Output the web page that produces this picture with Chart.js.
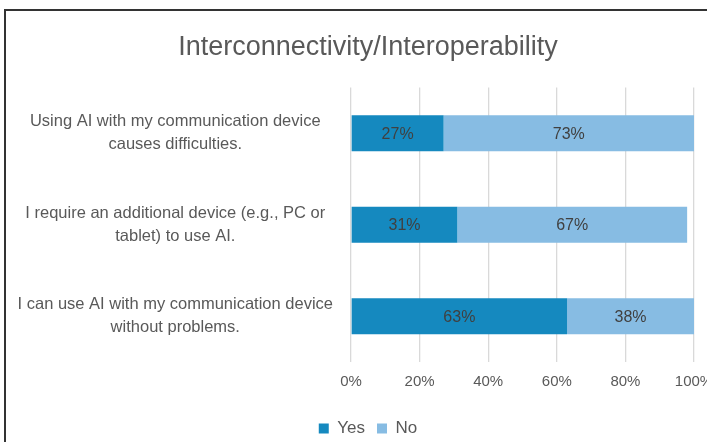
<!DOCTYPE html>
<html>
<head>
<meta charset="utf-8">
<script src="https://cdn.jsdelivr.net/npm/chart.js@4.4.1/dist/chart.umd.min.js"></script>
<style>
  html, body { margin: 0; padding: 0; background: #fff; overflow: hidden; }
  #frame {
    position: absolute; left: 4px; top: 9px;
    width: 730px; height: 470px;
    border-left: 2px solid #333; border-top: 2px solid #333;
  }
  #chart { display: block; }
</style>
</head>
<body>
<div id="frame"><canvas id="chart" width="724" height="444"></canvas></div>
<script>
// survey statements, one bar each
var categories = [
    ['Using AI with my communication device', 'causes difficulties.'],
    ['I require an additional device (e.g., PC or', 'tablet) to use AI.'],
    ['I can use AI with my communication device', 'without problems.']
];
var yesValues = [27, 31, 63];
var noValues = [73, 67, 38];
var xTicks = [0, 20, 40, 60, 80, 100];

var textGray = '#595959';
var labelFont = "'Liberation Sans', Arial, sans-serif";

// prints the percentage in the middle of each bar segment
var barLabels = {
    id: 'barLabels',
    afterDatasetsDraw: function(chart) {
        var ctx = chart.ctx;
        var area = chart.chartArea;
        ctx.save();
        ctx.font = '16px ' + labelFont;
        ctx.fillStyle = '#404040';
        ctx.textAlign = 'center';
        ctx.textBaseline = 'middle';
        chart.data.datasets.forEach(function(ds, i) {
            var meta = chart.getDatasetMeta(i);
            meta.data.forEach(function(bar, j) {
                var p = bar.getProps(['x', 'y', 'base'], true);
                var right = Math.min(p.x, area.right);
                var left = Math.max(p.base, area.left);
                ctx.fillText(ds.data[j] + '%', (left + right) / 2, p.y + 1);
            });
        });
        ctx.restore();
    }
};

new Chart(document.getElementById('chart'), {
    type: 'bar',
    data: {
        labels: categories,
        datasets: [
            { label: 'Yes', data: yesValues, backgroundColor: '#1589bf' },
            { label: 'No', data: noValues, backgroundColor: '#87bce3' }
        ]
    },
    options: {
        indexAxis: 'y',
        responsive: false,
        animation: false,
        barPercentage: 0.393,
        categoryPercentage: 1,
        layout: { padding: { left: 0, right: 0, top: 0, bottom: 8 } },
        scales: {
            x: {
                stacked: true,
                min: 0,
                max: 100,
                afterBuildTicks: function(scale) {
                    scale.ticks = xTicks.map(function(v) { return { value: v }; });
                },
                afterFit: function(scale) {
                    scale.height += 6;
                    scale.paddingRight = 36;
                },
                ticks: {
                    color: textGray,
                    font: { family: labelFont, size: 15 },
                    padding: 11,
                    callback: function(v) { return v + '%'; }
                },
                grid: { color: '#d9d9d9', lineWidth: 1.3, drawTicks: false },
                border: { display: false }
            },
            y: {
                stacked: true,
                afterFit: function(scale) { scale.width = 345; },
                ticks: {
                    color: textGray,
                    font: { family: labelFont, size: 16.5, lineHeight: 1.38 },
                    crossAlign: 'center',
                    padding: 18
                },
                grid: { display: false, drawTicks: false },
                border: { display: false }
            }
        },
        plugins: {
            title: {
                display: true,
                text: 'Interconnectivity/Interoperability',
                color: textGray,
                font: { family: labelFont, size: 27, weight: 'normal' },
                padding: { top: 20, bottom: 24 }
            },
            legend: {
                position: 'bottom',
                labels: {
                    color: textGray,
                    font: { family: labelFont, size: 17 },
                    boxWidth: 10,
                    boxHeight: 10,
                    padding: 12
                }
            },
            tooltip: { enabled: false }
        }
    },
    plugins: [barLabels]
});
</script>
</body>
</html>
